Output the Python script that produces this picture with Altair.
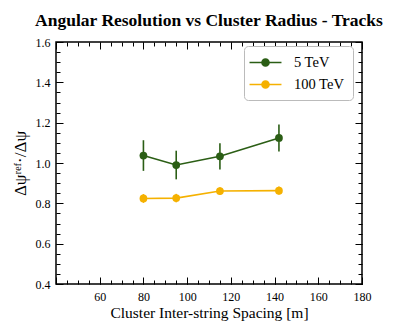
import altair as alt
import pandas as pd

spacing = [80, 95, 115, 142]
res_5tev = [1.037, 0.990, 1.033, 1.124]
err_5tev = [0.076, 0.071, 0.065, 0.067]
res_100tev = [0.824, 0.826, 0.861, 0.863]
err_100tev = [0.022, 0.021, 0.019, 0.020]
series = ["5 TeV", "100 TeV"]
colors = ["#2b5e15", "#f5b100"]

x_major = [40, 60, 80, 100, 120, 140, 160, 180]
x_labels = [60, 80, 100, 120, 140, 160, 180]
x_minor = list(range(40, 181, 5))
y_major = [0.4, 0.6, 0.8, 1.0, 1.2, 1.4, 1.6]
y_minor = [round(0.4 + 0.05 * i, 2) for i in range(25)]

rows = []
for s, ys, es in [(series[0], res_5tev, err_5tev), (series[1], res_100tev, err_100tev)]:
    for x, y, e in zip(spacing, ys, es):
        rows.append({"spacing": x, "res": y, "lo": y - e, "hi": y + e, "series": s})
df = pd.DataFrame(rows)

FONT = "Liberation Serif"
xs = alt.Scale(domain=[40, 180], nice=False, zero=False)
ys_ = alt.Scale(domain=[0.4, 1.6], nice=False, zero=False)
color = alt.Color("series:N", scale=alt.Scale(domain=series, range=colors),
                  legend=alt.Legend(
                      title=None, orient="none", legendX=188, legendY=4,
                      symbolType="M-2.13,0 L2.13,0 M-0.47,0 A0.47,0.47 0 1,1 0.47,0 A0.47,0.47 0 1,1 -0.47,0 Z",
                      symbolSize=225, symbolStrokeWidth=1.6, symbolOffset=5,
                      labelFont=FONT, labelFontSize=14.5, labelColor="black", labelOffset=20,
                      padding=8, rowPadding=6,
                      strokeColor="#bbbbbb", fillColor="white",
                  ))

base = alt.Chart(df)

x_main = alt.X("spacing:Q", scale=xs, axis=alt.Axis(
    title="Cluster Inter-string Spacing [m]", values=x_labels, ticks=False, domain=False,
    grid=False, labelFont=FONT, labelFontSize=12, labelColor="black", labelPadding=7,
    titleFont=FONT, titleFontSize=15.5, titleFontWeight="normal", titleColor="black", titlePadding=3,
    labelFlush=False))
y_main = alt.Y("res:Q", scale=ys_, axis=alt.Axis(
    title="Δψʳᵉᶠ·/Δψ", values=y_major, ticks=False, domain=False, grid=False,
    format=".1f", labelFont=FONT, labelFontSize=12, labelColor="black", labelPadding=6,
    titleFont=FONT, titleFontSize=17, titleFontWeight="normal", titleColor="black", titlePadding=6,
    labelFlush=False))

x_plain = alt.X("spacing:Q", scale=xs, axis=None)

errs = base.mark_rule(strokeWidth=1.6).encode(
    x=x_plain, y=alt.Y("lo:Q", scale=ys_, axis=None), y2="hi", color=color)
lines = base.mark_line(strokeWidth=1.6).encode(x=x_main, y=y_main, color=color)
pts = base.mark_circle(size=60, opacity=1).encode(
    x=x_plain, y=alt.Y("res:Q", scale=ys_, axis=None), color=color)


def tick_layer(xorient, yorient, xvals, yvals, size):
    return base.mark_point(opacity=0).encode(
        x=alt.X("spacing:Q", scale=xs, axis=alt.Axis(
            orient=xorient, values=xvals, labels=False, title=None, domain=False,
            grid=False, tickSize=size, offset=-size, tickColor="black", tickWidth=1)),
        y=alt.Y("res:Q", scale=ys_, axis=alt.Axis(
            orient=yorient, values=yvals, labels=False, title=None, domain=False,
            grid=False, tickSize=size, offset=-size, tickColor="black", tickWidth=1)),
    )


t1 = tick_layer("bottom", "left", x_major, y_major, 7)
t2 = tick_layer("bottom", "left", x_minor, y_minor, 4)
t3 = tick_layer("top", "right", x_major, y_major, 7)
t4 = tick_layer("top", "right", x_minor, y_minor, 4)

chart = alt.layer(errs, lines, pts, t1, t2, t3, t4).resolve_axis(
    x="independent", y="independent"
).properties(
    width=306, height=242,
    title=alt.TitleParams("Angular Resolution vs Cluster Radius - Tracks",
                          font=FONT, fontSize=17.5, fontWeight="bold", color="black",
                          anchor="middle", offset=7),
    autosize=alt.AutoSizeParams(type="none"),
    padding={"left": 48, "top": 34, "right": 48, "bottom": 42},
).configure_view(stroke="black", strokeWidth=1.5).configure_legend(
    cornerRadius=4, strokeWidth=1
)

chart.save("out.html", embed_options={"renderer": "svg", "actions": False})
